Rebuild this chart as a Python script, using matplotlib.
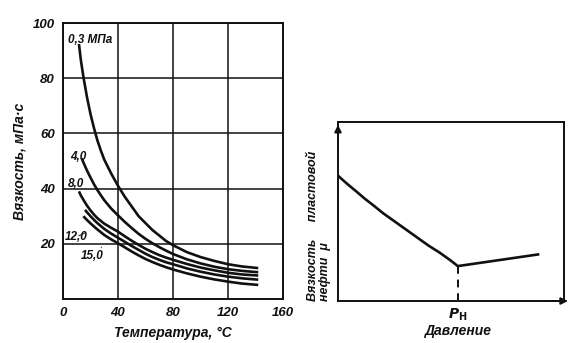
import matplotlib
matplotlib.use("Agg")
import matplotlib.pyplot as plt

plt.rcParams['font.family'] = ['Liberation Sans', 'DejaVu Sans']

# Viscosity vs temperature for several pressures
temp_03 = [11.6, 13, 15, 17.5, 20, 22.5, 25, 27.5, 30, 35, 40, 45, 50, 55, 60, 65, 70, 75, 80,
           90, 100, 110, 120, 130, 142]
visc_03 = [92.4, 86.5, 80, 73, 67, 62, 57.5, 53.8, 50.5, 45.5, 41, 37, 33.5, 30, 27.5, 25, 23, 21,
           19.5, 17, 15.2, 13.8, 12.6, 11.8, 11.2]
temp_40 = [13.6, 15, 17.5, 20, 22.5, 25, 27.5, 30, 35, 40, 45, 50, 55, 60, 65, 70, 75, 80,
           90, 100, 110, 120, 130, 142]
visc_40 = [51, 49.3, 46.5, 44, 41.6, 39.5, 37.6, 35.8, 32.8, 30.3, 27.9, 25.7, 23.6, 21.8, 20.2,
           18.8, 17.5, 16.3, 14.4, 12.9, 11.7, 10.8, 10.2, 9.7]
temp_80 = [11.6, 13, 15, 17.5, 20, 22.5, 25, 30, 35, 40, 45, 50, 55, 60, 65, 70, 75, 80,
           90, 100, 110, 120, 130, 142]
visc_80 = [39, 37.5, 35.8, 33.8, 32.1, 30.6, 29.3, 27.3, 25.8, 24.4, 22.7, 21.1, 19.6, 18.2, 17,
           15.9, 15, 14.2, 12.7, 11.4, 10.4, 9.5, 8.9, 8.5]
temp_120 = [16, 17.5, 20, 22.5, 25, 30, 35, 40, 45, 50, 55, 60, 65, 70, 75, 80,
            90, 100, 110, 120, 130, 142]
visc_120 = [32.3, 31.4, 30, 28.7, 27.5, 25.4, 23.7, 22.2, 20.7, 19.2, 17.8, 16.4, 15.2, 14.2,
            13.3, 12.6, 11.1, 9.9, 8.9, 8.1, 7.5, 7.0]
temp_150 = [14.8, 17.5, 20, 22.5, 25, 30, 35, 40, 45, 50, 55, 60, 65, 70, 75, 80,
            90, 100, 110, 120, 130, 142]
visc_150 = [30, 28.6, 27.4, 26.3, 25.2, 23.2, 21.6, 20.2, 18.7, 17.2, 15.8, 14.5, 13.4, 12.4,
            11.5, 10.7, 9.3, 8.1, 7.1, 6.3, 5.6, 5.1]

x_ticks = [0, 40, 80, 120, 160]
x_tick_labels = ['0', '40', '80', '120', '160']
y_ticks = [20, 40, 60, 80, 100]
y_tick_labels = ['20', '40', '60', '80', '100']

# Schematic: reservoir oil viscosity vs pressure
pressure = [0.0, 0.04, 0.083, 0.12, 0.156, 0.2, 0.25, 0.3, 0.35, 0.4, 0.45, 0.5, 0.53, 0.885]
mu = [0.70, 0.655, 0.61, 0.57, 0.535, 0.49, 0.445, 0.40, 0.355, 0.31, 0.27, 0.225, 0.195, 0.26]
p_sat = 0.53

W, H = 579, 343
ink = '#111111'
fig = plt.figure(figsize=(W / 100, H / 100), dpi=100)


def fx(px):
    return px / W


def fy(py):
    return 1 - py / H


lab = dict(fontstyle='italic', fontweight='bold', color=ink)

# ---- left panel ----
ax = fig.add_axes([fx(63), fy(299), fx(283) - fx(63), fy(23) - fy(299)])
for xs, ys in [(temp_03, visc_03), (temp_40, visc_40), (temp_80, visc_80),
               (temp_120, visc_120), (temp_150, visc_150)]:
    ax.plot(xs, ys, color=ink, lw=1.9, solid_capstyle='butt', solid_joinstyle='round')
ax.set_xlim(0, 160)
ax.set_ylim(0, 100)
ax.set_xticks(x_ticks)
ax.set_xticklabels(x_tick_labels, fontsize=9.5, **lab)
ax.set_yticks(y_ticks)
ax.set_yticklabels(y_tick_labels, fontsize=9.5, **lab)
ax.tick_params(length=0, pad=6)
ax.grid(True, color=ink, lw=1.1)
for s in ax.spines.values():
    s.set_linewidth(1.4)
    s.set_color(ink)
ax.set_xlabel('Температура, °С', fontsize=10, labelpad=5, **lab)
ax.set_ylabel('Вязкость, мПа·с', fontsize=10, labelpad=4, **lab)

ax.text(4, 94, '0,3 МПа', fontsize=8.5, ha='left', va='center', **lab)
ax.text(5, 51.5, '4,0', fontsize=8.5, ha='left', va='center', **lab)
ax.text(3.5, 41.5, '8,0', fontsize=8.5, ha='left', va='center', **lab)
ax.annotate('12,0', xy=(17.5, 24.3), xytext=(1.5, 22.5), fontsize=8.5,
            ha='left', va='center', arrowprops=dict(arrowstyle='-', lw=0.7, color=ink), **lab)
ax.annotate('15,0', xy=(28, 18.8), xytext=(13, 15.5), fontsize=8.5,
            ha='left', va='center', arrowprops=dict(arrowstyle='-', lw=0.7, color=ink), **lab)

# ---- right panel ----
ax2 = fig.add_axes([fx(338), fy(301), fx(564) - fx(338), fy(122) - fy(301)])
ax2.plot(pressure, mu, color=ink, lw=1.9, solid_joinstyle='round')
ax2.plot([p_sat, p_sat], [0, mu[pressure.index(p_sat)]], color=ink, lw=1.4, ls=(0, (4, 3)))
ax2.set_xlim(0, 1)
ax2.set_ylim(0, 1)
ax2.set_xticks([])
ax2.set_yticks([])
for s in ax2.spines.values():
    s.set_linewidth(1.4)
    s.set_color(ink)
ax2.annotate('', xy=(0, 1.0), xytext=(0, 0.85), xycoords='axes fraction',
             arrowprops=dict(arrowstyle='-|>', lw=1.4, color=ink, mutation_scale=10))
ax2.annotate('', xy=(1.03, 0), xytext=(0.9, 0), xycoords='axes fraction',
             arrowprops=dict(arrowstyle='-|>', lw=1.4, color=ink, mutation_scale=10))
fig.text(fx(458), fy(315), r'$\mathbfit{P}_{\mathbf{Н}}$', fontsize=10,
         ha='center', va='center', color=ink)
fig.text(fx(458), fy(331), 'Давление', fontsize=10, ha='center', va='center', **lab)
fig.text(fx(313), fy(301), 'Вязкость     пластовой', fontsize=9, rotation=90,
         ha='center', va='bottom', **lab)
fig.text(fx(325), fy(301), 'нефти  μ', fontsize=9, rotation=90,
         ha='center', va='bottom', **lab)

fig.savefig('out.png', dpi=100, facecolor='white')
